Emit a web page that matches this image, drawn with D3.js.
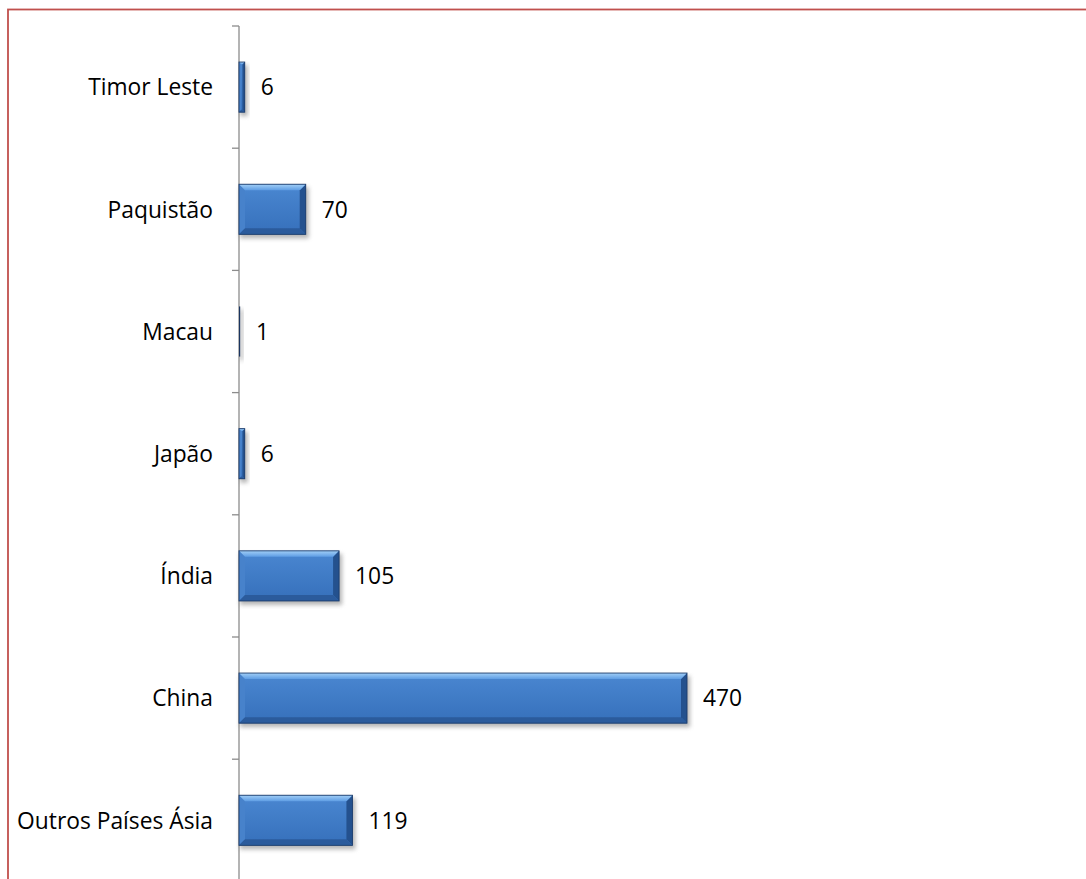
<!DOCTYPE html>
<html>
<head>
<meta charset="utf-8">
<script src="https://cdn.jsdelivr.net/npm/d3@7"></script>
<style>
  html, body { margin: 0; padding: 0; background: #fff; }
  svg { display: block; }
  text { font-family: "Open Sans", "Liberation Sans", sans-serif; fill: #000; }
</style>
</head>
<body>
<svg id="chart" width="1086" height="879"></svg>
<script>
// Categories listed top to bottom, with their counts
const categories = ["Timor Leste", "Paquistão", "Macau", "Japão", "Índia", "China", "Outros Países Ásia"];
const values = [6, 70, 1, 6, 105, 470, 119];
const xDomain = [0, 500];

const svg = d3.select("#chart");
const W = 1086, H = 879;

svg.append("rect").attr("width", W).attr("height", H).attr("fill", "#fff");

// Chart frame (runs past the right and bottom edges)
svg.append("rect")
  .attr("x", 8).attr("y", 9.5)
  .attr("width", W + 20).attr("height", H + 20)
  .attr("fill", "none")
  .attr("stroke", "#c0504d")
  .attr("stroke-width", 1.8);

const axisX = 239;
const plotTop = 26;
const step = 122.2;

const x = d3.scaleLinear().domain(xDomain).range([axisX, axisX + 476.6]);
const y = d3.scaleBand()
  .domain(categories)
  .range([plotTop, plotTop + step * categories.length])
  .paddingInner(0.59)
  .paddingOuter(0.295);

const defs = svg.append("defs");
const blur = defs.append("filter").attr("id", "shadow")
  .attr("x", "-20%").attr("y", "-40%").attr("width", "140%").attr("height", "180%");
blur.append("feGaussianBlur").attr("stdDeviation", 2.2);

const gMain = defs.append("linearGradient").attr("id", "gMain")
  .attr("x1", 0).attr("y1", 0).attr("x2", 0).attr("y2", 1);
gMain.append("stop").attr("offset", "0%").attr("stop-color", "#4a87d1");
gMain.append("stop").attr("offset", "100%").attr("stop-color", "#3670bb");

const gTop = defs.append("linearGradient").attr("id", "gTop")
  .attr("x1", 0).attr("y1", 0).attr("x2", 0).attr("y2", 1);
gTop.append("stop").attr("offset", "0%").attr("stop-color", "#a2cff7");
gTop.append("stop").attr("offset", "100%").attr("stop-color", "#5e9de4");

// Value axis line and band-boundary ticks
const ax = svg.append("g").attr("stroke", "#8c8c8c").attr("stroke-width", 1.3);
ax.append("line")
  .attr("x1", axisX).attr("x2", axisX)
  .attr("y1", y.range()[0]).attr("y2", H + 5);
d3.range(categories.length + 1).forEach(i => {
  const ty = y.range()[0] + i * y.step();
  ax.append("line").attr("x1", axisX - 7).attr("x2", axisX).attr("y1", ty).attr("y2", ty);
});

// Bars with bevelled edges and soft drop shadow
const bars = svg.append("g");
categories.forEach((c, i) => {
  const v = values[i];
  const x0 = x(0), x1 = x(v);
  const y0 = y(c), y1 = y(c) + y.bandwidth();
  const w = x1 - x0;
  const g = bars.append("g");

  g.append("rect")
    .attr("x", x0 + 1).attr("y", y0 + 3)
    .attr("width", w + 2).attr("height", y1 - y0 + 1)
    .attr("fill", "#7a7a7a").attr("opacity", 0.55)
    .attr("filter", "url(#shadow)");

  if (w < 2) {
    g.append("rect").attr("x", x0).attr("y", y0)
      .attr("width", Math.max(w, 1.2)).attr("height", y1 - y0)
      .attr("fill", "#1b3560");
    return;
  }

  const b = Math.min(6, w / 2.5);
  g.append("rect").attr("x", x0).attr("y", y0)
    .attr("width", w).attr("height", y1 - y0).attr("fill", "url(#gMain)");
  const poly = pts => g.append("polygon").attr("points", pts.map(p => p.join(",")).join(" "));
  poly([[x0, y0], [x0 + b, y0 + b], [x0 + b, y1 - b], [x0, y1]]).attr("fill", "#4782cb");
  poly([[x1, y0], [x1 - b, y0 + b], [x1 - b, y1 - b], [x1, y1]]).attr("fill", "#24518e");
  poly([[x0, y1], [x0 + b, y1 - b], [x1 - b, y1 - b], [x1, y1]]).attr("fill", "#2b5b9c");
  poly([[x0, y0], [x1, y0], [x1 - b, y0 + b], [x0 + b, y0 + b]]).attr("fill", "url(#gTop)");
  g.append("rect").attr("x", x0).attr("y", y0)
    .attr("width", w).attr("height", y1 - y0)
    .attr("fill", "none").attr("stroke", "#1d3d6c").attr("stroke-width", 0.9);
});

// Category labels
svg.append("g").selectAll("text").data(categories).join("text")
  .attr("x", 213)
  .attr("y", d => y(d) + y.bandwidth() / 2)
  .attr("dy", "0.36em")
  .attr("text-anchor", "end")
  .attr("font-size", 22.8)
  .text(d => d);

// Value labels
svg.append("g").selectAll("text").data(categories).join("text")
  .attr("x", (d, i) => x(values[i]) + 16)
  .attr("y", d => y(d) + y.bandwidth() / 2)
  .attr("dy", "0.36em")
  .attr("font-size", 22.8)
  .text((d, i) => values[i]);
</script>
</body>
</html>
